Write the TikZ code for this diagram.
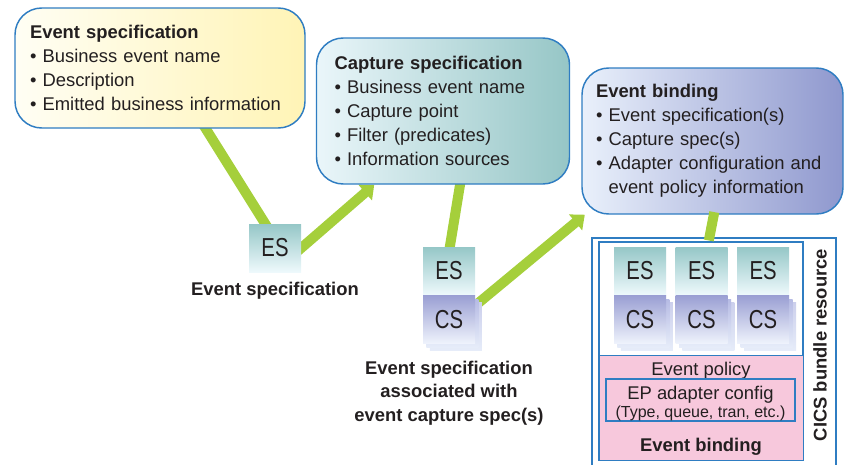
\documentclass[tikz,border=0pt]{standalone}
\usepackage{fontspec}
\setmainfont{Liberation Sans}
\newfontfamily\esfont[FakeStretch=0.78]{Liberation Sans}
\usetikzlibrary{positioning, arrows.meta, shadows, backgrounds}

\definecolor{linkgreen}{HTML}{A5CF3B}
\definecolor{edgeblue}{HTML}{2F7DC2}
\definecolor{inkgray}{HTML}{231F20}
\definecolor{yellowL}{HTML}{FFFEF4}
\definecolor{yellowR}{HTML}{FFF4B6}
\definecolor{tealL}{HTML}{EAF6FA}
\definecolor{tealR}{HTML}{96C6C6}
\definecolor{lavL}{HTML}{E9F0FB}
\definecolor{lavR}{HTML}{8F98CE}
\definecolor{esteal}{HTML}{95C7C7}
\definecolor{eslight}{HTML}{EEF9FC}
\definecolor{cslav}{HTML}{9A9FD3}
\definecolor{cslight}{HTML}{EFF3FC}
\definecolor{shadowlav}{HTML}{B6BBE4}
\definecolor{shadowlight}{HTML}{E6ECF9}
\definecolor{policypink}{HTML}{F7C8DC}

\begin{document}
\begin{tikzpicture}[x=0.75pt, y=-0.75pt,
    every node/.style={text=inkgray, font=\fontsize{13.8}{18}\selectfont},
    specbox/.style={draw=edgeblue, line width=1.1pt, rounded corners=20pt, align=left, inner ysep=0pt, minimum height=109.5pt},
    heading/.style={font=\bfseries\fontsize{13.8}{17.6}\selectfont},
    esbox/.style={minimum width=39pt, minimum height=36pt, inner sep=0pt, top color=esteal, bottom color=eslight, font=\esfont\fontsize{19.5}{20}\selectfont},
    csbox/.style={esbox, top color=cslav, bottom color=cslight,
        general shadow={shadow xshift=5.2pt, shadow yshift=-5.2pt, top color=shadowlav!70, bottom color=shadowlight},
        general shadow={shadow xshift=2.6pt, shadow yshift=-2.6pt, top color=shadowlav, bottom color=shadowlight}},
    frame/.style={draw=edgeblue, line width=1.4pt},
    link/.style={draw=linkgreen, line width=7.5pt},
    arrowlink/.style={link, -{Triangle[length=9pt, width=15pt]}}
]
\useasboundingbox (0,0) rectangle (848,464);

% Specification boxes
\node[specbox, left color=yellowL, right color=yellowR, inner xsep=11.25pt, text width=195pt, minimum height=90pt] (evspec) at (160,68)
    {\textbf{Event specification}\\ \textbullet\ Business event name\\ \textbullet\ Description\\ \textbullet\ Emitted business information};
\node[specbox, left color=tealL, right color=tealR, inner xsep=13.5pt, text width=162.75pt] (capspec) at (443,111)
    {\textbf{Capture specification}\\ \textbullet\ Business event name\\ \textbullet\ Capture point\\ \textbullet\ Filter (predicates)\\ \textbullet\ Information sources};
\node[specbox, left color=lavL, right color=lavR, inner xsep=10.5pt, text width=174.75pt] (evbind) at (712.5,141)
    {\textbf{Event binding}\\ \textbullet\ Event specification(s)\\ \textbullet\ Capture spec(s)\\ \textbullet\ Adapter configuration and\\ \hphantom{\textbullet\ }event policy information};

% Single event specification
\node[esbox] (es1) at (275,248) {ES};
\node[heading, below=7.5pt of es1, inner sep=0pt] (es1_label) {Event specification};

% Event specification with capture spec
\node[esbox] (es2) at (449,271) {ES};
\node[csbox, below=0pt of es2] (cs2) {CS};
\node[heading, below=12.5pt of cs2, inner sep=0pt, align=center] (cs2_label) {Event specification\\associated with\\event capture spec(s)};

% CICS bundle resource
\node[frame, minimum width=183pt, minimum height=176pt] (bundleres) at (714,355) {};
\node[heading, rotate=90] (bundleres_label) at (820,345) {CICS bundle resource};
\node[frame, fill=white, line width=1.1pt, minimum width=153pt, minimum height=163.5pt] (bundle) at (701,351) {};
\node[draw=edgeblue, line width=0.7pt, fill=policypink, minimum width=153pt, minimum height=78.75pt, above=0pt of bundle.south] (policy) {};
\node[below=5pt of policy.north, inner sep=0pt] (policy_title) {Event policy};
\node[draw=edgeblue, line width=0.9pt, fill=policypink, minimum width=141.75pt, minimum height=28.5pt, inner sep=0pt] (adapter) at (700.5,400)
    {\raisebox{-3pt}[\height][\depth]{\begin{tabular}{@{}c@{}}EP adapter config\\[-4.5pt]{\fontsize{12}{13.5}\selectfont (Type, queue, tran, etc.)}\end{tabular}}};
\node[heading, above=4pt of policy.south, inner sep=0pt] (binding_label) {Event binding};

\node[esbox] (es3a) at (640,271) {ES};
\node[esbox, right=6.75pt of es3a] (es3b) {ES};
\node[esbox, right=6.75pt of es3b] (es3c) {ES};
\node[csbox, below=0pt of es3a] (cs3a) {CS};
\node[csbox, below=0pt of es3b] (cs3b) {CS};
\node[csbox, below=0pt of es3c] (cs3c) {CS};

% Green links
\begin{pgfonlayer}{background}
\draw[link, shorten <=-4pt, shorten >=-4pt] (evspec.-53) -- (es1.112);
\draw[arrowlink, shorten <=-6pt] (es1.east) -- (capspec.-133);
\draw[link, shorten <=-4pt, shorten >=-4pt] (capspec.-77) -- (es2.88);
\draw[arrowlink, shorten <=-8pt] (cs2.28) -- (evbind.-150);
\end{pgfonlayer}
\draw[link, shorten <=-2pt, shorten >=0.6pt] (evbind.-89) -- (bundle.86);

\end{tikzpicture}
\end{document}
